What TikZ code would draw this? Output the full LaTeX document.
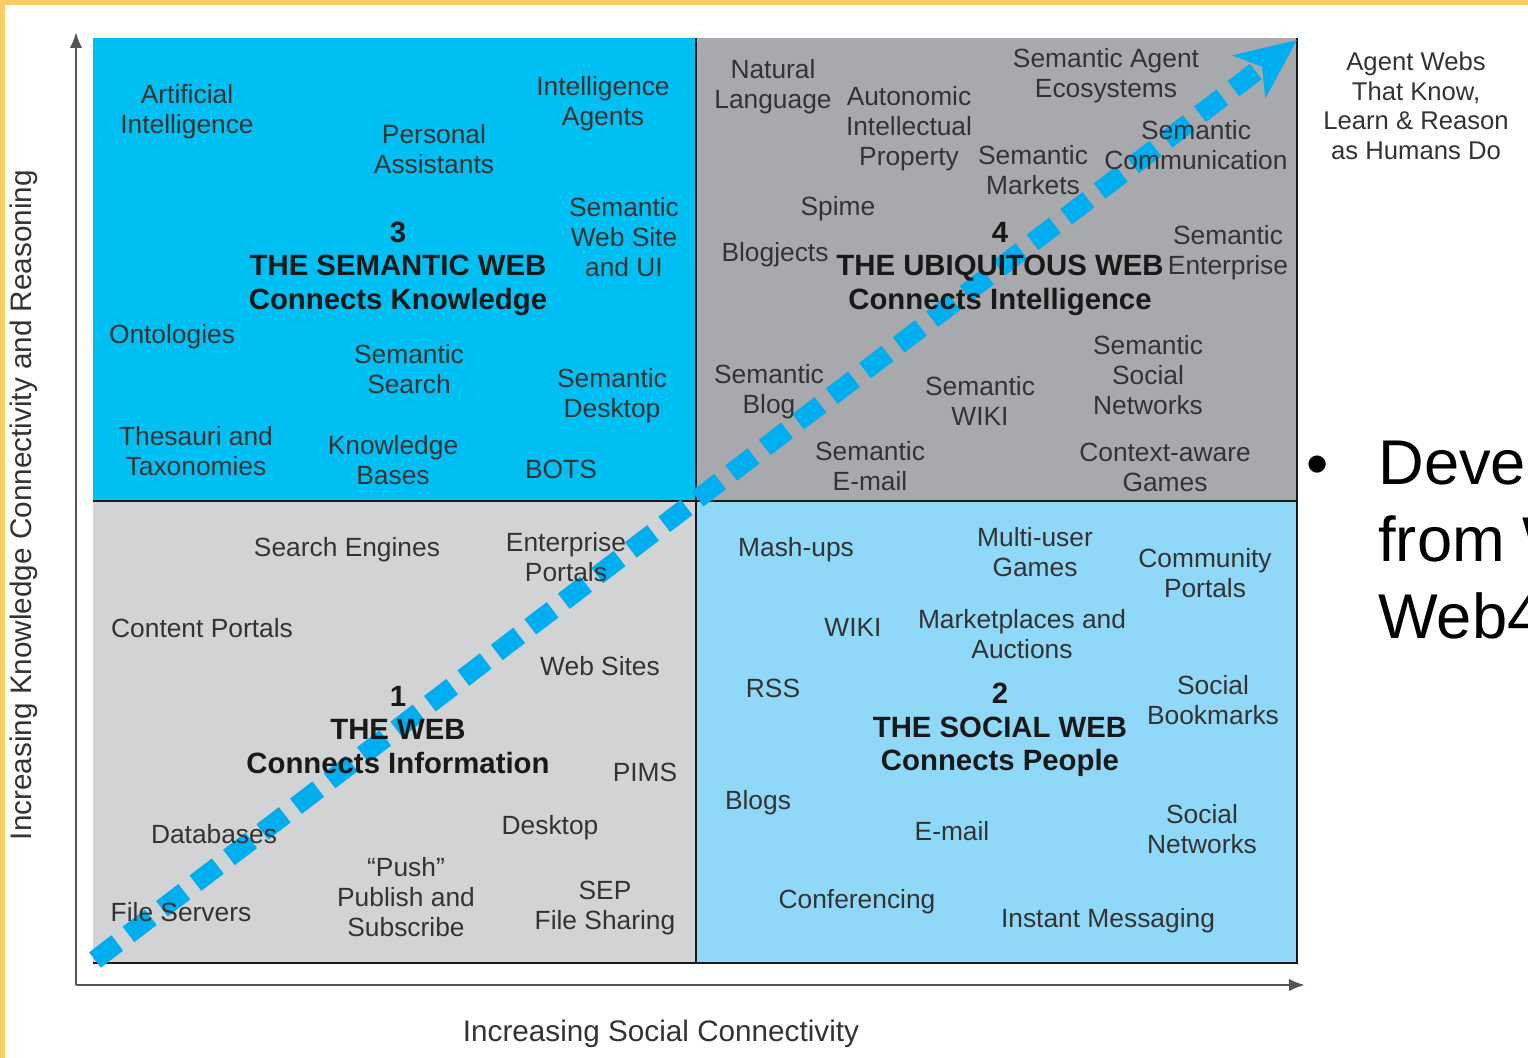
\documentclass[tikz,border=0pt]{standalone}
\usepackage{fontspec}
\setmainfont{Liberation Sans}
\usetikzlibrary{arrows.meta,positioning}
\definecolor{frameorange}{HTML}{FFCC66}
\definecolor{semcyan}{HTML}{00BFF3}
\definecolor{ubigray}{HTML}{A7A9AC}
\definecolor{weblight}{HTML}{D1D3D4}
\definecolor{socialblue}{HTML}{8FD8F8}
\definecolor{flowblue}{HTML}{00AEEF}
\definecolor{ink}{HTML}{333333}
\definecolor{axisgray}{HTML}{555555}

\begin{document}
\begin{tikzpicture}[x=0.02cm,y=-0.02cm]
  % Styles
  \tikzset{
    item/.style={align=center, text=ink, inner sep=0pt, yshift=-1.6pt, font=\fontsize{15}{17}\selectfont},
    title/.style={align=center, text=black!90, inner sep=0pt, yshift=-1.6pt, font=\bfseries\fontsize{16.7}{19}\selectfont},
    axislabel/.style={align=center, text=ink, inner sep=0pt, font=\fontsize{16.9}{19}\selectfont},
    axis/.style={-{Latex[length=9pt,width=7pt]}, line width=1.3pt, draw=axisgray},
    divider/.style={line width=1.5pt, draw=black!90},
    flow/.style={line width=11pt, draw=flowblue, dash pattern=on 16pt off 8pt,
      -{Stealth[length=34pt,width=30pt,inset=9pt]}},
  }

  % Page and frame
  \useasboundingbox (0,0) rectangle (1528,1058);
  \fill[white] (0,0) rectangle (1528,1058);
  \fill[frameorange] (0,0) rectangle (1528,5);
  \fill[frameorange] (0,0) rectangle (5,1058);

  % Quadrants
  \fill[semcyan]    (93,38)  rectangle (696,501);
  \fill[ubigray]    (696,38) rectangle (1297,501);
  \fill[weblight]   (93,501) rectangle (696,963);
  \fill[socialblue] (696,501) rectangle (1297,963);
  \draw[divider] (696,38) -- (696,963);
  \draw[divider] (93,501) -- (1297,501);
  \draw[divider] (1297,38) -- (1297,963) -- (93,963);

  % Axes
  \coordinate (origin) at (76,985);
  \coordinate (ytop) at (76,32);
  \coordinate (xend) at (1305,985);
  \draw[axis] (origin) -- (ytop);
  \draw[axis] (origin) -- (xend);
  \node[axislabel, rotate=90] (ylab) at (24,505) {Increasing Knowledge Connectivity and Reasoning};
  \node[axislabel] (xlab) at (661,1034) {Increasing Social Connectivity};

  % Dashed trend arrow (under the texts)
  \coordinate (flowstart) at (95,960);
  \coordinate (flowend) at (1297,40);
  \draw[flow] (flowstart) -- (flowend);

  % Quadrant 3: semantic web
  \node[item] (ai)        at (187,109) {Artificial\\Intelligence};
  \node[item] (personal)  at (434,146) {Personal\\Assistants};
  \node[item] (agents)    at (603,101) {Intelligence\\Agents};
  \node[item] (site)      at (624,234) {Semantic\\Web Site\\and UI};
  \node[title] (semweb)   at (398,266) {3\\THE SEMANTIC WEB\\Connects Knowledge};
  \node[item] (onto)      at (172,334) {Ontologies};
  \node[item] (search)    at (409,366) {Semantic\\Search};
  \node[item] (desk)      at (612,393) {Semantic\\Desktop};
  \node[item] (thesauri)  at (196,448) {Thesauri and\\Taxonomies};
  \node[item] (kbases)    at (393,457) {Knowledge\\Bases};
  \node[item] (bots)      at (561,467) {BOTS};

  % Quadrant 4: ubiquitous web
  \node[item] (natural)   at (773,84)  {Natural\\Language};
  \node[item] (autonomic) at (909,126) {Autonomic\\Intellectual\\Property};
  \node[item] (ecosys)    at (1106,73) {Semantic Agent\\Ecosystems};
  \node[item] (comm)      at (1196,142) {Semantic\\Communication};
  \node[item] (markets)   at (1033,167) {Semantic\\Markets};
  \node[item] (spime)     at (838,206) {Spime};
  \node[item] (blogjects) at (775,252) {Blogjects};
  \node[title] (ubiweb)   at (1000,266) {4\\THE UBIQUITOUS WEB\\Connects Intelligence};
  \node[item] (enterp)    at (1228,250) {Semantic\\Enterprise};
  \node[item] (socnet)    at (1148,372) {Semantic\\Social\\Networks};
  \node[item] (semblog)   at (769,389) {Semantic\\Blog};
  \node[item] (semwiki)   at (980,398) {Semantic\\WIKI};
  \node[item] (semmail)   at (870,463) {Semantic\\E-mail};
  \node[item] (context)   at (1165,465) {Context-aware\\Games};

  % Quadrant 1: the web
  \node[item] (engines)   at (347,547) {Search Engines};
  \node[item] (portals)   at (566,554) {Enterprise\\Portals};
  \node[item] (content)   at (202,625) {Content Portals};
  \node[item] (websites)  at (600,663) {Web Sites};
  \node[title] (theweb)   at (398,727) {1\\THE WEB\\Connects Information};
  \node[item] (pims)      at (645,770) {PIMS};
  \node[item] (dbs)       at (214,831) {Databases};
  \node[item] (desktop)   at (550,825) {Desktop};
  \node[item] (push)      at (406,894) {“Push”\\Publish and\\Subscribe};
  \node[item] (sep)       at (605,905) {SEP\\File Sharing};
  \node[item] (files)     at (181,909) {File Servers};

  % Quadrant 2: social web
  \node[item] (mashups)   at (796,547) {Mash-ups};
  \node[item] (multi)     at (1035,549) {Multi-user\\Games};
  \node[item] (community) at (1205,570) {Community\\Portals};
  \node[item] (wiki)      at (853,625) {WIKI};
  \node[item] (market)    at (1022,631) {Marketplaces and\\Auctions};
  \node[item] (rss)       at (773,686) {RSS};
  \node[item] (bookmarks) at (1213,697) {Social\\Bookmarks};
  \node[title] (socweb)   at (1000,727) {2\\THE SOCIAL WEB\\Connects People};
  \node[item] (blogs)     at (758,800) {Blogs};
  \node[item] (email)     at (952,828) {E-mail};
  \node[item] (networks)  at (1202,826) {Social\\Networks};
  \node[item] (conf)      at (857,899) {Conferencing};
  \node[item] (instant)   at (1108,918) {Instant Messaging};

  % Outside
  \node[item, font=\fontsize{14.6}{17}\selectfont] (goal) at (1416,103) {Agent Webs\\That Know,\\Learn \& Reason\\as Humans Do};
  \node[inner sep=0pt, font=\fontsize{36}{44}\selectfont] (bullet) at (1318,471) {•};
  \node[anchor=west, align=left, inner sep=0pt, font=\fontsize{36}{43.7}\selectfont] (slide) at (1378,540) {Deve\\from W\\Web4};
\end{tikzpicture}
\end{document}
